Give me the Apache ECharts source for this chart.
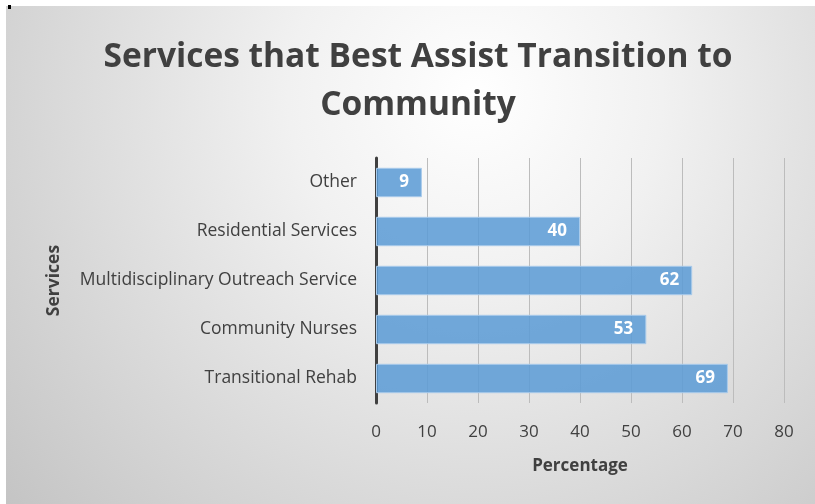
<!DOCTYPE html>
<html>
<head>
<meta charset="utf-8">
<script src="https://cdn.jsdelivr.net/npm/echarts@6/dist/echarts.min.js"></script>
<style>
  html, body { margin: 0; padding: 0; background: #ffffff; }
  #chart { width: 815px; height: 504px; }
</style>
</head>
<body>
<div id="chart"></div>
<script>
// Survey responses: share of respondents choosing each service
const categories = [
  'Transitional Rehab',
  'Community Nurses',
  'Multidisciplinary Outreach Service',
  'Residential Services',
  'Other'
];
const percentages = [69, 53, 62, 40, 9];
const titleLines = ['Services that Best Assist Transition to', 'Community'];

const FONT = '"Open Sans", "Liberation Sans", sans-serif';
const TEXT = '#404040';

const chart = echarts.init(document.getElementById('chart'), null, { renderer: 'canvas' });

chart.setOption({
  backgroundColor: '#ffffff',
  animation: false,
  graphic: [
    {
      type: 'rect',
      z: -10,
      silent: true,
      shape: { x: 6, y: 6, width: 809, height: 498 },
      style: {
        fill: {
          type: 'radial', x: 0.58, y: 0.18, r: 1.25,
          colorStops: [
            { offset: 0, color: '#ffffff' },
            { offset: 0.3, color: '#f1f1f1' },
            { offset: 1, color: '#c4c4c4' }
          ]
        }
      }
    },
    {
      type: 'rect', z: 10, silent: true,
      shape: { x: 8, y: 5, width: 3, height: 4 },
      style: { fill: '#000000' }
    }
  ],
  title: {
    text: titleLines.join('\n'),
    left: 413,
    top: 28,
    textAlign: 'center',
    textStyle: {
      fontFamily: FONT,
      fontWeight: 'bold',
      fontSize: 33.5,
      lineHeight: 48,
      color: TEXT
    }
  },
  grid: { left: 376, right: 31, top: 158, bottom: 101 },
  xAxis: {
    type: 'value',
    min: 0,
    max: 80,
    interval: 10,
    name: 'Percentage',
    nameLocation: 'middle',
    nameGap: 55,
    nameTextStyle: { fontFamily: FONT, fontWeight: 'bold', fontSize: 17, color: TEXT },
    axisLine: { show: false },
    axisTick: { show: false },
    axisLabel: { fontFamily: FONT, fontSize: 17, color: TEXT, margin: 21 },
    splitLine: { show: true, lineStyle: { color: '#bcbcbc', width: 1 } }
  },
  yAxis: {
    type: 'category',
    data: categories,
    name: 'Services',
    nameLocation: 'middle',
    nameRotate: 90,
    nameGap: 313,
    nameTextStyle: { fontFamily: FONT, fontWeight: 'bold', fontSize: 17.5, color: TEXT },
    axisLine: { show: true, lineStyle: { color: '#404040', width: 3 } },
    axisTick: { show: false },
    axisLabel: { fontFamily: FONT, fontSize: 17.5, color: TEXT, margin: 19 },
    splitLine: { show: false }
  },
  series: [{
    type: 'bar',
    data: percentages,
    barCategoryGap: '40%',
    itemStyle: {
      color: 'rgba(91,155,213,0.86)',
      borderColor: '#a9cbeb',
      borderWidth: 1
    },
    label: {
      show: true,
      position: 'insideRight',
      distance: 13,
      color: '#ffffff',
      fontFamily: FONT,
      fontWeight: 'bold',
      fontSize: 17
    }
  }]
});
</script>
</body>
</html>
